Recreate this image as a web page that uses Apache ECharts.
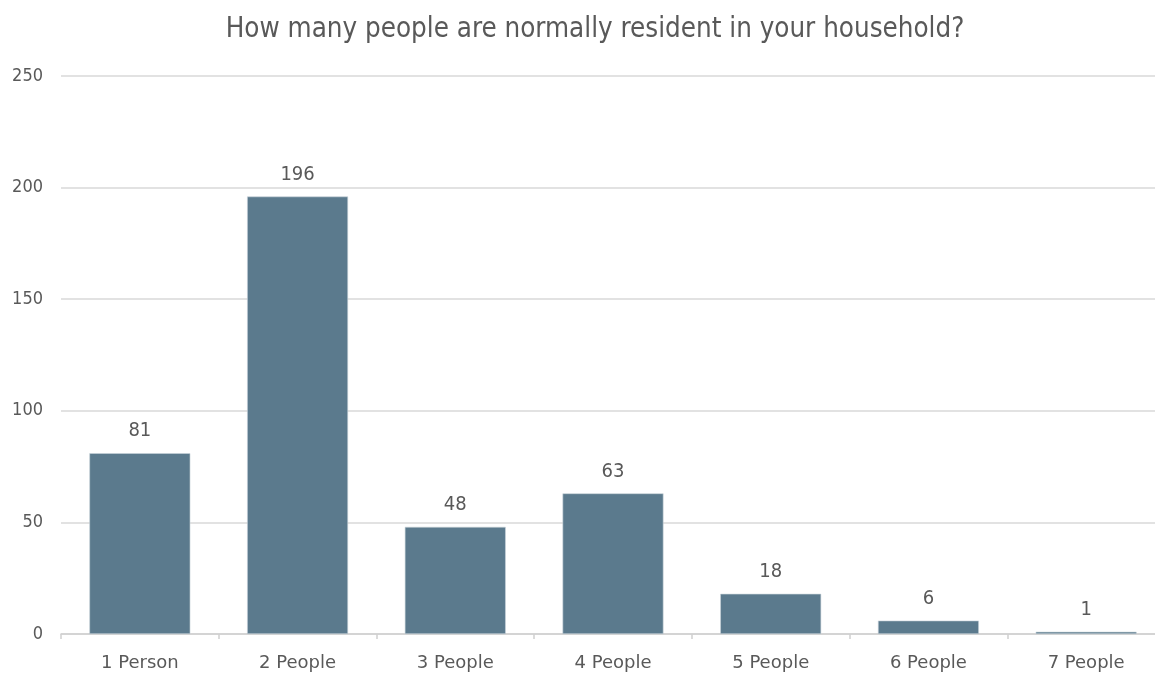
<!DOCTYPE html>
<html>
<head>
<meta charset="utf-8">
<script src="https://cdn.jsdelivr.net/npm/echarts@6/dist/echarts.min.js"></script>
<style>
  html, body { margin: 0; padding: 0; background: #ffffff; overflow: hidden; }
  /* plot runs slightly past the right edge of the window */
  #chart { width: 1165px; height: 675px; }
</style>
</head>
<body>
<div id="chart"></div>
<script>
// Household size survey: number of respondents per household size
const titleText = 'How many people are normally resident in your household?';
const categories = ['1 Person', '2 People', '3 People', '4 People', '5 People', '6 People', '7 People'];
const counts = [81, 196, 48, 63, 18, 6, 1];
const yTicks = { min: 0, max: 250, interval: 50 };

const COND = '"DejaVu Sans Condensed", "DejaVu Sans", sans-serif';
const SANS = '"DejaVu Sans", sans-serif';
const TEXT = '#595959';

const chart = echarts.init(document.getElementById('chart'), null, { renderer: 'canvas' });
chart.setOption({
  backgroundColor: '#ffffff',
  animation: false,
  title: {
    text: titleText,
    left: 590,
    top: 11,
    textAlign: 'center',
    textStyle: { fontFamily: COND, fontSize: 27.5, fontWeight: 'normal', color: TEXT }
  },
  grid: { left: 61, right: 0, top: 76, bottom: 41, containLabel: false },
  xAxis: {
    type: 'category',
    data: categories,
    axisLine: { show: true, lineStyle: { color: '#d0d0d0', width: 1.5 } },
    axisTick: { show: true, length: 5, lineStyle: { color: '#d0d0d0', width: 1.5 } },
    axisLabel: { fontFamily: SANS, fontSize: 18, color: TEXT, margin: 20 }
  },
  yAxis: {
    type: 'value',
    min: yTicks.min,
    max: yTicks.max,
    interval: yTicks.interval,
    axisLine: { show: false },
    axisTick: { show: false },
    splitLine: { lineStyle: { color: '#d9d9d9', width: 1.5 } },
    axisLabel: { fontFamily: COND, fontSize: 18, color: TEXT, margin: 18 }
  },
  series: [{
    type: 'bar',
    data: counts,
    barCategoryGap: '36%',
    itemStyle: { color: '#5b7a8d', borderColor: '#c9d3da', borderWidth: 0.6 },
    label: {
      show: true,
      position: 'top',
      distance: 12,
      fontFamily: COND,
      fontSize: 20,
      color: TEXT
    }
  }]
});
</script>
</body>
</html>
